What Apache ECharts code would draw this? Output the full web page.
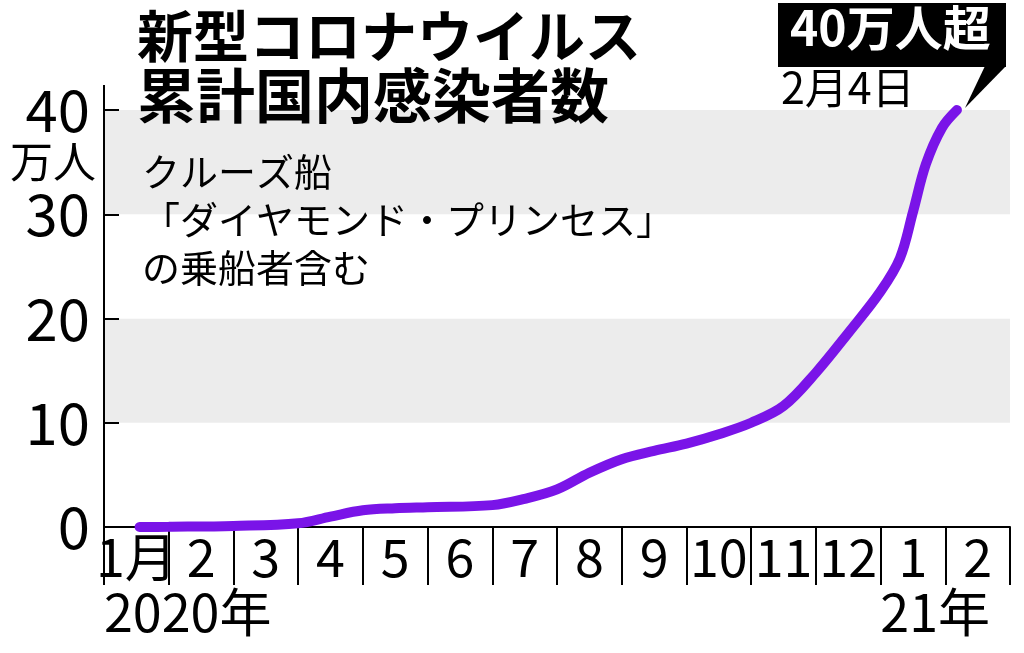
<!DOCTYPE html>
<html>
<head>
<meta charset="utf-8">
<script src="https://cdn.jsdelivr.net/npm/echarts@6/dist/echarts.min.js"></script>
<style>
html, body { margin: 0; padding: 0; background: #fff; }
#chart { width: 1024px; height: 653px; }
</style>
</head>
<body>
<div id="chart"></div>
<script>
var FONT = '"Noto Sans CJK JP", "Noto Sans", sans-serif';

// month labels (Jan 2020 .. Feb 2021)
var monthLabels = ['1月', '2', '3', '4', '5', '6', '7', '8', '9', '10', '11', '12', '1', '2'];
// x = months since 1 Jan 2020, y = cumulative cases (万人)
var monthPos = [0.55, 1.0, 2.0, 3.0, 3.5, 4.0, 4.5, 5.0, 6.0, 6.5, 7.0, 7.5, 8.0, 8.5, 9.0, 9.5, 10.0, 10.5, 11.0, 11.5, 12.0, 12.3, 12.5, 12.7, 12.95, 13.18];
var cases = [0, 0.02, 0.1, 0.35, 1.0, 1.6, 1.8, 1.9, 2.1, 2.7, 3.6, 5.2, 6.5, 7.3, 8.0, 8.9, 10.0, 11.6, 14.8, 18.6, 22.6, 25.8, 30.2, 34.8, 38.3, 40.0];

var points = [];
for (var i = 0; i < monthPos.length; i++) {
	points.push([monthPos[i], cases[i]]);
}

var myChart = echarts.init(document.getElementById('chart'));
var option = {
	backgroundColor: '#fff',
	animation: false,
	grid: { left: 104, right: 14, top: 110, bottom: 126 },
	xAxis: [{
		type: 'category',
		data: monthLabels,
		boundaryGap: true,
		axisLine: { show: true, lineStyle: { color: '#000', width: 2 } },
		axisTick: { show: true, interval: 0, alignWithLabel: false, length: 58, lineStyle: { color: '#000', width: 2 } },
		axisLabel: { color: '#000', fontSize: 52, fontFamily: FONT, margin: 4, interval: 0 },
		splitLine: { show: false }
	}, {
		type: 'value',
		min: 0,
		max: 14,
		show: false
	}],
	yAxis: {
		type: 'value',
		min: 0,
		max: 40,
		interval: 10,
		// rect end symbol just lengthens the axis line above 40
		axisLine: { show: true, symbol: ['none', 'rect'], symbolSize: [2, 50], lineStyle: { color: '#000', width: 2 } },
		axisTick: { show: true, inside: true, length: 15, lineStyle: { color: '#000', width: 2 } },
		axisLabel: { color: '#000', fontSize: 58, fontFamily: FONT, margin: 14 },
		splitLine: { show: false },
		splitArea: { show: true, areaStyle: { color: ['#ffffff', '#ececec'] } }
	},
	series: [{
		type: 'line',
		xAxisIndex: 1,
		data: points,
		smooth: 0.35,
		showSymbol: false,
		lineStyle: { color: '#7a14e8', width: 10, cap: 'round' },
		z: 5
	}],
	graphic: [
		{ type: 'text', left: 137, top: 8, z: 10,
			style: { text: '新型コロナウイルス', font: 'bold 56px ' + FONT, fill: '#000' } },
		{ type: 'text', left: 137, top: 66, z: 10,
			style: { text: '累計国内感染者数', font: 'bold 59px ' + FONT, fill: '#000' } },
		{ type: 'text', left: 10, top: 140, z: 10,
			style: { text: '万人', font: '43px ' + FONT, fill: '#000' } },
		{ type: 'text', left: 142, top: 148, z: 10,
			style: { text: 'クルーズ船\n「ダイヤモンド・プリンセス」\nの乗船者含む', font: '38px ' + FONT, lineHeight: 48, fill: '#000' } },
		{ type: 'text', left: 104, top: 586, z: 10,
			style: { text: '2020年', font: '52px ' + FONT, fill: '#000' } },
		{ type: 'text', right: 34, top: 586, z: 10,
			style: { text: '21年', font: '52px ' + FONT, fill: '#000' } },
		{ type: 'rect', z: 10, shape: { x: 778, y: 3, width: 228, height: 64 }, style: { fill: '#000' } },
		{ type: 'polygon', z: 10, shape: { points: [[985, 66], [1006, 66], [965, 108]] }, style: { fill: '#000' } },
		{ type: 'text', left: 790, top: 4, z: 11,
			style: { text: '40万人超', font: 'bold 48px ' + FONT, fill: '#fff' } },
		{ type: 'text', left: 781, top: 66, z: 11,
			style: { text: '2月4日', font: '43px ' + FONT, fill: '#000' } }
	]
};
myChart.setOption(option);
</script>
</body>
</html>
